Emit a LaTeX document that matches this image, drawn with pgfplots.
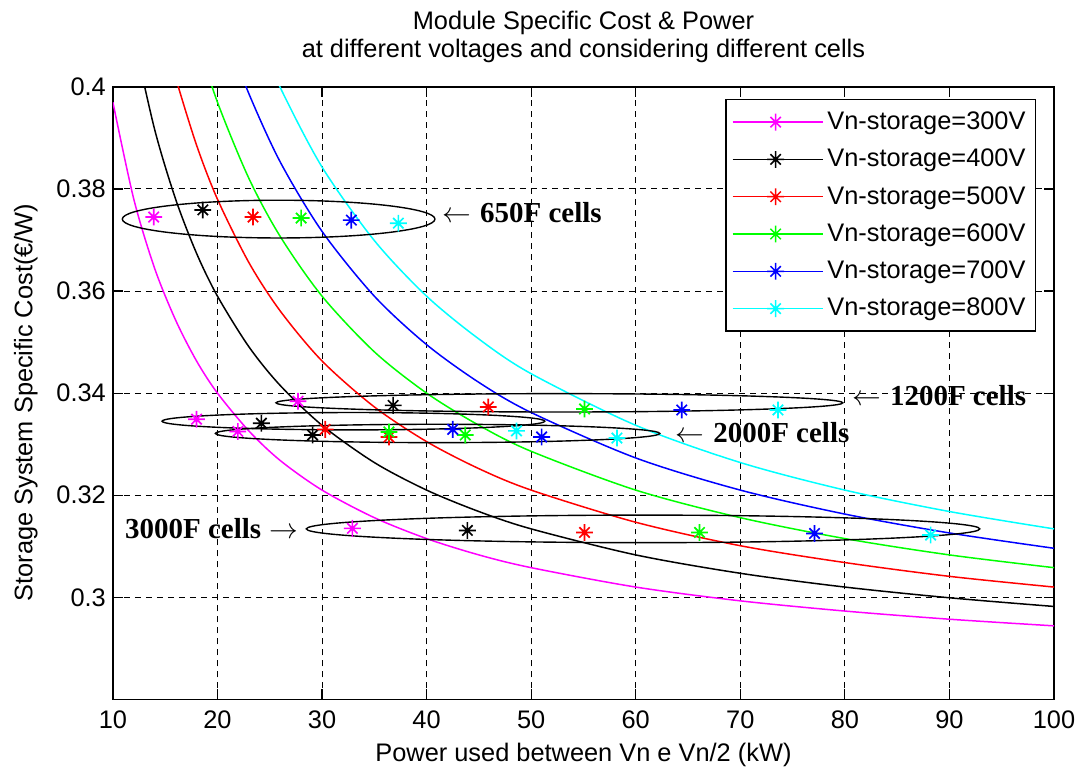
\documentclass[border=0pt]{standalone}
\usepackage{fontspec}
\setmainfont{Liberation Sans}
\newfontfamily\annotfont{Liberation Serif}
\usepackage{pgfplots}
\pgfplotsset{compat=1.18}
\definecolor{cMag}{rgb}{1,0,1}
\definecolor{cBlk}{rgb}{0,0,0}
\definecolor{cRed}{rgb}{1,0,0}
\definecolor{cGrn}{rgb}{0,1,0}
\definecolor{cBlu}{rgb}{0,0,1}
\definecolor{cCya}{rgb}{0,1,1}
\pgfdeclareplotmark{mstar}{%
 \pgfpathmoveto{\pgfqpoint{-\pgfplotmarksize}{0pt}}\pgfpathlineto{\pgfqpoint{\pgfplotmarksize}{0pt}}%
 \pgfpathmoveto{\pgfqpoint{0pt}{-\pgfplotmarksize}}\pgfpathlineto{\pgfqpoint{0pt}{\pgfplotmarksize}}%
 \pgfpathmoveto{\pgfqpoint{-0.62\pgfplotmarksize}{-0.62\pgfplotmarksize}}\pgfpathlineto{\pgfqpoint{0.62\pgfplotmarksize}{0.62\pgfplotmarksize}}%
 \pgfpathmoveto{\pgfqpoint{-0.62\pgfplotmarksize}{0.62\pgfplotmarksize}}\pgfpathlineto{\pgfqpoint{0.62\pgfplotmarksize}{-0.62\pgfplotmarksize}}%
 \pgfusepathqstroke}
\newcommand{\tfont}{\fontsize{12.7}{14}\selectfont}
\newcommand{\afont}{\annotfont\bfseries\fontsize{14.5}{16}\selectfont}
\pgfplotsset{cellpts/.style={only marks, mark=mstar, mark size=4.2pt, mark options={line width=0.85pt}, forget plot}}
\begin{document}
\begin{tikzpicture}
\begin{axis}[
 width=471pt, height=306.5pt, scale only axis,
 xmin=10, xmax=100, ymin=0.28, ymax=0.4,
 xtick={10,20,30,40,50,60,70,80,90,100},
 ytick={0.3,0.32,0.34,0.36,0.38,0.4},
 tick align=inside, tick pos=both,
 major tick length=5pt,
 grid=major,
 major grid style={black, dash pattern=on 3pt off 2.5pt, line width=0.5pt},
 axis line style={line width=0.8pt, black},
 every tick/.style={black, line width=0.6pt},
 tick label style={font=\tfont},
 xticklabel style={yshift=-2pt},
 /pgf/number format/assume math mode=true,
 yticklabel style={/pgf/number format/fixed, /pgf/number format/precision=2},
 xlabel={Power used between Vn e Vn/2 (kW)},
 ylabel={Storage System Specific Cost(€/W)},
 xlabel style={font=\tfont, at={(axis description cs:0.5,-0.0914)}, anchor=center},
 ylabel style={font=\tfont, at={(axis description cs:-0.0924,0.4845)}, anchor=center},
 title={Module Specific Cost \& Power\\at different voltages and considering different cells},
 title style={font=\tfont, align=center, at={(axis description cs:0.5,1.062)}, anchor=center},
 legend style={at={(rel axis cs:0.981,0.980)}, anchor=north east, draw=black, line width=0.6pt,
   font=\tfont, row sep=4.3pt, inner xsep=3pt, inner ysep=4pt},
 legend cell align=left,
 legend image code/.code={\path (-9pt,0pt) -- (36pt,0pt);\draw[mark repeat=2,mark phase=2,#1] plot coordinates {(0pt,0pt) (12.5pt,0pt) (25pt,0pt)};},
 every axis plot/.append style={line width=0.75pt},
]
% cost curves
\addplot[cMag, smooth, forget plot] coordinates {(10,0.397)(12,0.378)(14,0.3644)(16,0.3543)(18,0.3463)(20,0.340)(23,0.3326)(26,0.3268)(30,0.321)(35,0.3156)(40,0.3115)(45,0.3083)(50,0.3058)(60,0.302)(70,0.2993)(80,0.2973)(90,0.2957)(100,0.2944)};
\addplot[cBlk, smooth, forget plot] coordinates {(12,0.4097)(14,0.3916)(16,0.378)(18,0.3674)(20,0.359)(23,0.3491)(26,0.3415)(30,0.3337)(35,0.3264)(40,0.321)(45,0.3168)(50,0.3134)(60,0.3083)(70,0.3047)(80,0.302)(90,0.2999)(100,0.2982)};
\addplot[cRed, smooth, forget plot] coordinates {(15,0.4097)(16,0.4018)(18,0.3886)(20,0.378)(23,0.3656)(26,0.3561)(30,0.3463)(35,0.3373)(40,0.3305)(45,0.3252)(50,0.321)(60,0.3147)(70,0.3101)(80,0.3068)(90,0.3041)(100,0.302)};
\addplot[cGrn, smooth, forget plot] coordinates {(18,0.4097)(20,0.397)(23,0.3821)(26,0.3707)(30,0.359)(35,0.3481)(40,0.340)(45,0.3337)(50,0.3286)(60,0.321)(70,0.3156)(80,0.3115)(90,0.3083)(100,0.3058)};
\addplot[cBlu, smooth, forget plot] coordinates {(21,0.4097)(23,0.3987)(26,0.3853)(30,0.3717)(35,0.359)(40,0.3495)(45,0.3421)(50,0.3362)(60,0.3273)(70,0.321)(80,0.3163)(90,0.3126)(100,0.3096)};
\addplot[cCya, smooth, forget plot] coordinates {(24,0.4097)(26,0.3999)(30,0.3843)(35,0.3699)(40,0.359)(45,0.3506)(50,0.3438)(60,0.3337)(70,0.3264)(80,0.321)(90,0.3168)(100,0.3134)};
% cell points
\addplot[cMag, cellpts] coordinates {(13.9,0.3745)(27.7,0.3384)(18.0,0.3349)(21.95,0.3325)(32.9,0.3135)};
\addplot[cBlk, cellpts] coordinates {(18.6,0.3759)(36.8,0.3376)(24.2,0.3341)(29.1,0.3318)(43.9,0.3131)};
\addplot[cRed, cellpts] coordinates {(23.4,0.3745)(45.9,0.3373)(30.3,0.3329)(36.4,0.3314)(55.1,0.3127)};
\addplot[cGrn, cellpts] coordinates {(28.0,0.3743)(55.1,0.3369)(36.4,0.3324)(43.7,0.3318)(66.1,0.3127)};
\addplot[cBlu, cellpts] coordinates {(32.8,0.3739)(64.4,0.3367)(42.5,0.3329)(51.0,0.3314)(77.1,0.3125)};
\addplot[cCya, cellpts] coordinates {(37.3,0.3733)(73.6,0.3367)(48.6,0.3326)(58.2,0.3312)(88.2,0.3122)};
% ellipses
\draw[black, line width=0.7pt] (axis cs:25.85,0.3741) ellipse [x radius=14.95, y radius=0.0037];
\draw[black, line width=0.7pt] (axis cs:52.7,0.3381) ellipse [x radius=27.1, y radius=0.0018];
\draw[black, line width=0.7pt] (axis cs:33.0,0.3345) ellipse [x radius=18.3, y radius=0.0017];
\draw[black, line width=0.7pt] (axis cs:41.05,0.3321) ellipse [x radius=21.25, y radius=0.0018];
\draw[black, line width=0.7pt] (axis cs:60.7,0.3134) ellipse [x radius=32.2, y radius=0.0027];
% annotations
\node[anchor=west, font=\afont, inner sep=0pt] at (axis cs:41.5,0.3753) {$\leftarrow$\hspace{0.3em}650F cells};
\node[anchor=west, font=\afont, inner sep=0pt] at (axis cs:80.7,0.3396) {$\leftarrow$\hspace{0.3em}1200F cells};
\node[anchor=west, font=\afont, inner sep=0pt] at (axis cs:63.8,0.3322) {$\leftarrow$\hspace{0.3em}2000F cells};
\node[anchor=east, font=\afont, inner sep=0pt] at (axis cs:27.8,0.3135) {3000F cells\hspace{0.3em}$\rightarrow$};
% legend
\addlegendimage{cMag, mark=mstar, mark size=4.2pt, line width=0.75pt}
\addlegendentry{Vn-storage=300V}
\addlegendimage{cBlk, mark=mstar, mark size=4.2pt, line width=0.75pt}
\addlegendentry{Vn-storage=400V}
\addlegendimage{cRed, mark=mstar, mark size=4.2pt, line width=0.75pt}
\addlegendentry{Vn-storage=500V}
\addlegendimage{cGrn, mark=mstar, mark size=4.2pt, line width=0.75pt}
\addlegendentry{Vn-storage=600V}
\addlegendimage{cBlu, mark=mstar, mark size=4.2pt, line width=0.75pt}
\addlegendentry{Vn-storage=700V}
\addlegendimage{cCya, mark=mstar, mark size=4.2pt, line width=0.75pt}
\addlegendentry{Vn-storage=800V}
\end{axis}
\pgfresetboundingbox
\useasboundingbox (-56.5pt,-34.5pt) rectangle (484pt,350pt);
\end{tikzpicture}
\end{document}
